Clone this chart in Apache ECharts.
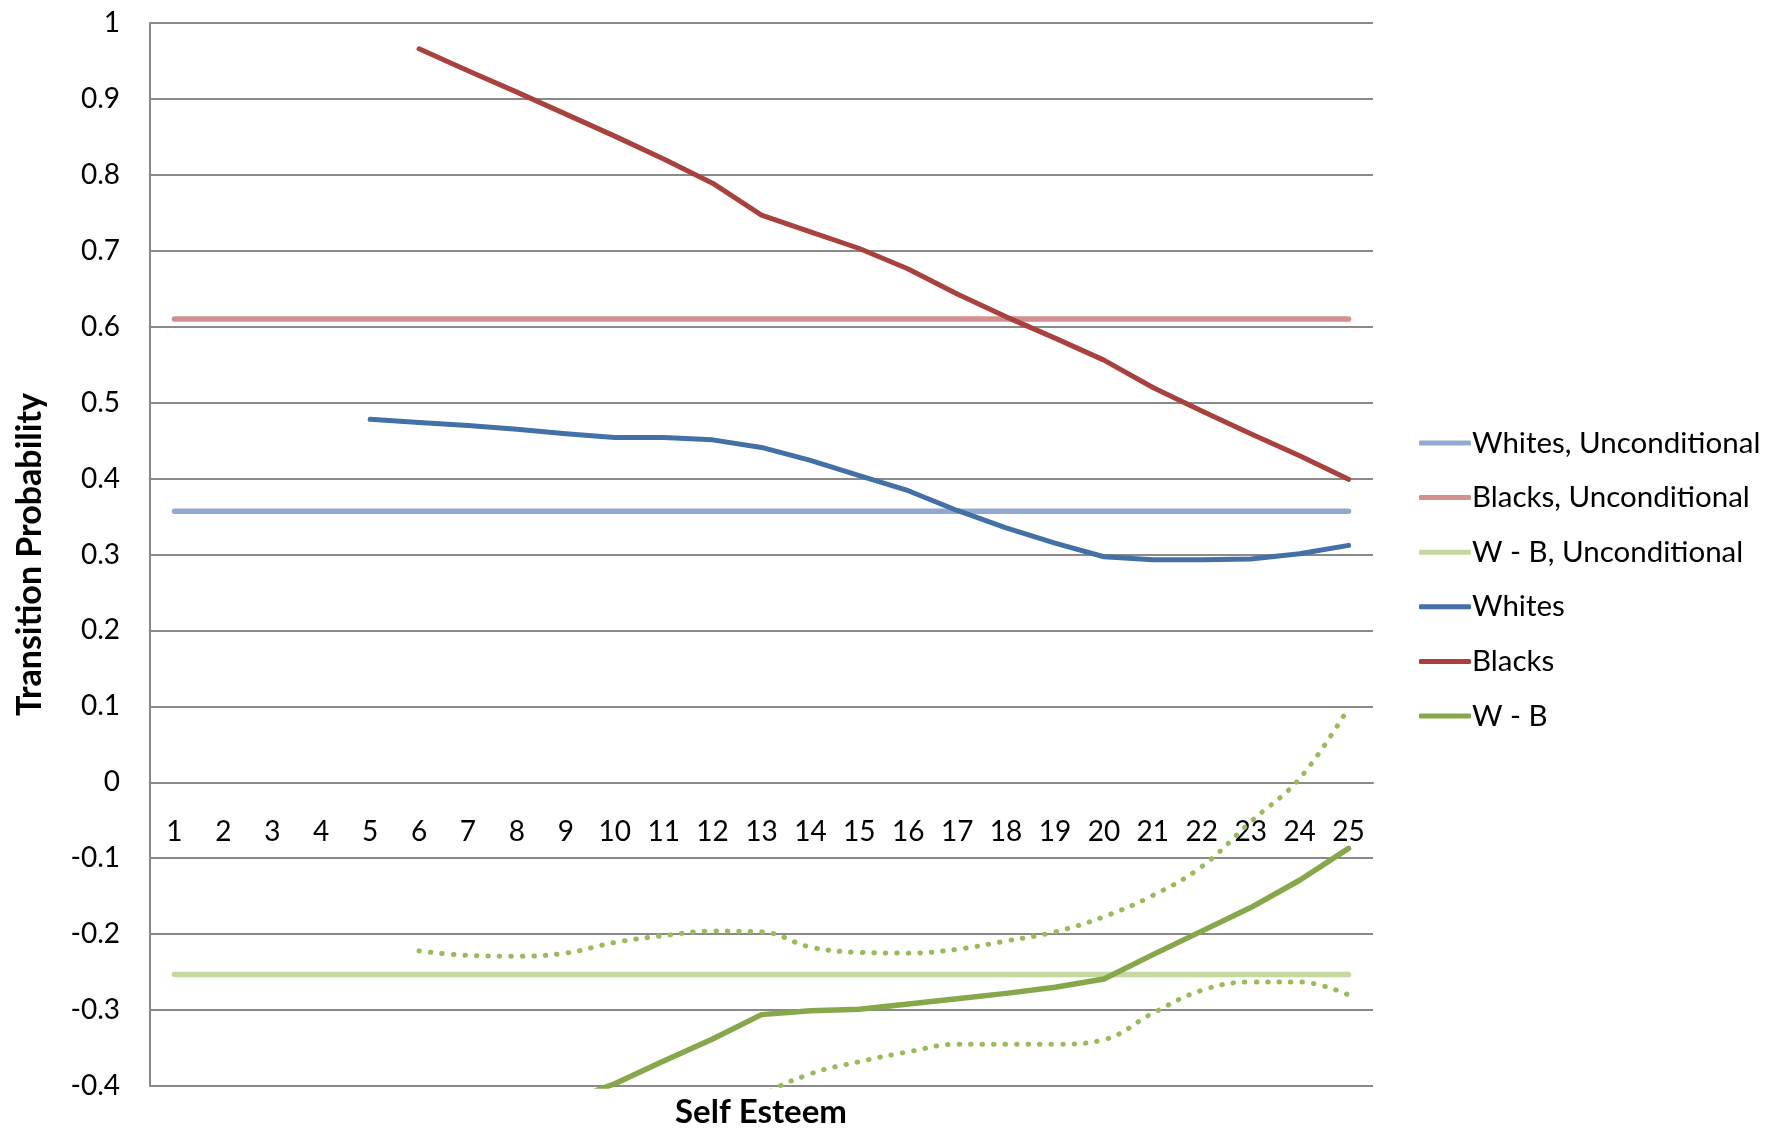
<!DOCTYPE html>
<html>
<head>
<meta charset="utf-8">
<script src="https://cdn.jsdelivr.net/npm/echarts@6/dist/echarts.min.js"></script>
<style>
  html, body { margin: 0; padding: 0; background: #ffffff; }
  #chart { width: 1765px; height: 1131px; }
</style>
</head>
<body>
<div id="chart"></div>
<script>
// Self esteem scores (categories on the x axis)
const categories = ['1','2','3','4','5','6','7','8','9','10','11','12','13','14','15','16','17','18','19','20','21','22','23','24','25'];

// Unconditional transition probabilities (flat reference lines)
const whitesUnconditional = [0.357,0.357,0.357,0.357,0.357,0.357,0.357,0.357,0.357,0.357,0.357,0.357,0.357,0.357,0.357,0.357,0.357,0.357,0.357,0.357,0.357,0.357,0.357,0.357,0.357];
const blacksUnconditional = [0.61,0.61,0.61,0.61,0.61,0.61,0.61,0.61,0.61,0.61,0.61,0.61,0.61,0.61,0.61,0.61,0.61,0.61,0.61,0.61,0.61,0.61,0.61,0.61,0.61];
const wbUnconditional = [-0.253,-0.253,-0.253,-0.253,-0.253,-0.253,-0.253,-0.253,-0.253,-0.253,-0.253,-0.253,-0.253,-0.253,-0.253,-0.253,-0.253,-0.253,-0.253,-0.253,-0.253,-0.253,-0.253,-0.253,-0.253];

// Conditional transition probabilities by self esteem
const whites = [null,null,null,null,0.478,0.474,0.470,0.465,0.459,0.454,0.454,0.451,0.441,0.424,0.404,0.384,0.358,0.335,0.315,0.297,0.293,0.293,0.294,0.301,0.312];
const blacks = [null,null,null,null,null,0.966,0.937,0.909,0.880,0.851,0.821,0.789,0.747,0.725,0.703,0.676,0.643,0.613,0.585,0.556,0.520,0.489,0.459,0.430,0.399];
const whiteMinusBlack = [null,null,null,null,null,-0.492,-0.467,-0.444,-0.421,-0.397,-0.367,-0.338,-0.306,-0.301,-0.299,-0.292,-0.285,-0.278,-0.270,-0.259,-0.227,-0.196,-0.165,-0.129,-0.087];

// Confidence band around W - B
const wbUpper = [null,null,null,null,null,-0.222,-0.228,-0.229,-0.225,-0.211,-0.202,-0.196,-0.197,-0.217,-0.224,-0.225,-0.220,-0.209,-0.197,-0.177,-0.149,-0.111,-0.052,0.005,0.098];
const wbLower = [null,null,null,null,null,null,null,null,null,null,null,-0.480,-0.415,-0.384,-0.368,-0.355,-0.345,-0.345,-0.345,-0.339,-0.304,-0.274,-0.263,-0.263,-0.280];

const yTicks = { min: -0.4, max: 1, interval: 0.1 };

const FONT = 'Lato, "Open Sans", sans-serif';
const GRID_COLOR = '#8a8a8a';

// plot box (pixels)
const PLOT = { left: 150, right: 392, top: 23, bottom: 45 };
const CHART_H = 1131;

const chart = echarts.init(document.getElementById('chart'), null, { renderer: 'canvas' });

function solid(name, data, color, width) {
  return {
    name: name,
    type: 'line',
    data: data,
    symbol: 'none',
    showSymbol: false,
    clip: true,
    lineStyle: { color: color, width: width, cap: 'round', join: 'round' },
    itemStyle: { color: color },
    emphasis: { disabled: true },
    animation: false
  };
}

function dotted(name, data, color) {
  return {
    name: name,
    type: 'line',
    data: data,
    symbol: 'none',
    showSymbol: false,
    smooth: 0.4,
    clip: true,
    lineStyle: { color: color, width: 5, type: [0.5, 11], cap: 'round' },
    itemStyle: { color: color },
    emphasis: { disabled: true },
    animation: false
  };
}

// The category axis sits on the zero line of the value axis
const plotHeight = CHART_H - PLOT.top - PLOT.bottom;
const zeroFromBottom = plotHeight * (0 - yTicks.min) / (yTicks.max - yTicks.min);

chart.setOption({
  animation: false,
  textStyle: { fontFamily: FONT },
  grid: {
    left: PLOT.left, right: PLOT.right, top: PLOT.top, bottom: PLOT.bottom,
    containLabel: false,
    outerBoundsMode: 'none'
  },
  legend: {
    data: ['Whites, Unconditional', 'Blacks, Unconditional', 'W - B, Unconditional', 'Whites', 'Blacks', 'W - B'],
    orient: 'vertical',
    left: 1414,
    top: 423,
    icon: 'roundRect',
    itemWidth: 52,
    itemHeight: 5,
    itemGap: 24.6,
    selectedMode: false,
    textStyle: { fontFamily: FONT, fontSize: 29.5, color: '#000000', padding: [0, 0, 0, -4] }
  },
  xAxis: {
    type: 'category',
    data: categories,
    boundaryGap: true,
    position: 'bottom',
    offset: -zeroFromBottom,
    axisLine: { show: true, onZero: false, lineStyle: { color: GRID_COLOR, width: 2 } },
    axisTick: { show: false },
    axisLabel: { fontFamily: FONT, fontSize: 28, color: '#000000', margin: 36, interval: 0 },
    splitLine: { show: false }
  },
  yAxis: {
    type: 'value',
    min: yTicks.min,
    max: yTicks.max,
    interval: yTicks.interval,
    name: 'Transition Probability',
    nameLocation: 'middle',
    nameGap: 103,
    nameTextStyle: { fontFamily: FONT, fontSize: 34, fontWeight: 'bold', color: '#000000' },
    axisLine: { show: true, lineStyle: { color: GRID_COLOR, width: 2 } },
    axisTick: { show: false },
    axisLabel: {
      fontFamily: FONT, fontSize: 28, color: '#000000', margin: 30,
      formatter: function (v) { return String(Math.round(v * 10) / 10); }
    },
    splitLine: { show: true, lineStyle: { color: GRID_COLOR, width: 2 } }
  },
  graphic: [{
    type: 'text',
    x: 761,
    y: 1112,
    style: {
      text: 'Self Esteem',
      textAlign: 'center',
      textVerticalAlign: 'middle',
      fontFamily: FONT, fontSize: 33, fontWeight: 'bold', fill: '#000000'
    }
  }],
  series: [
    solid('Whites, Unconditional', whitesUnconditional, '#93aad0', 5.5),
    solid('Blacks, Unconditional', blacksUnconditional, '#d4908f', 5.5),
    solid('W - B, Unconditional', wbUnconditional, '#c4d99f', 5.5),
    solid('Whites', whites, '#4470a8', 5),
    solid('Blacks', blacks, '#a9423f', 5),
    solid('W - B', whiteMinusBlack, '#86a84a', 5.5),
    dotted('W - B upper', wbUpper, '#9bbb59'),
    dotted('W - B lower', wbLower, '#9bbb59')
  ]
});
</script>
</body>
</html>
